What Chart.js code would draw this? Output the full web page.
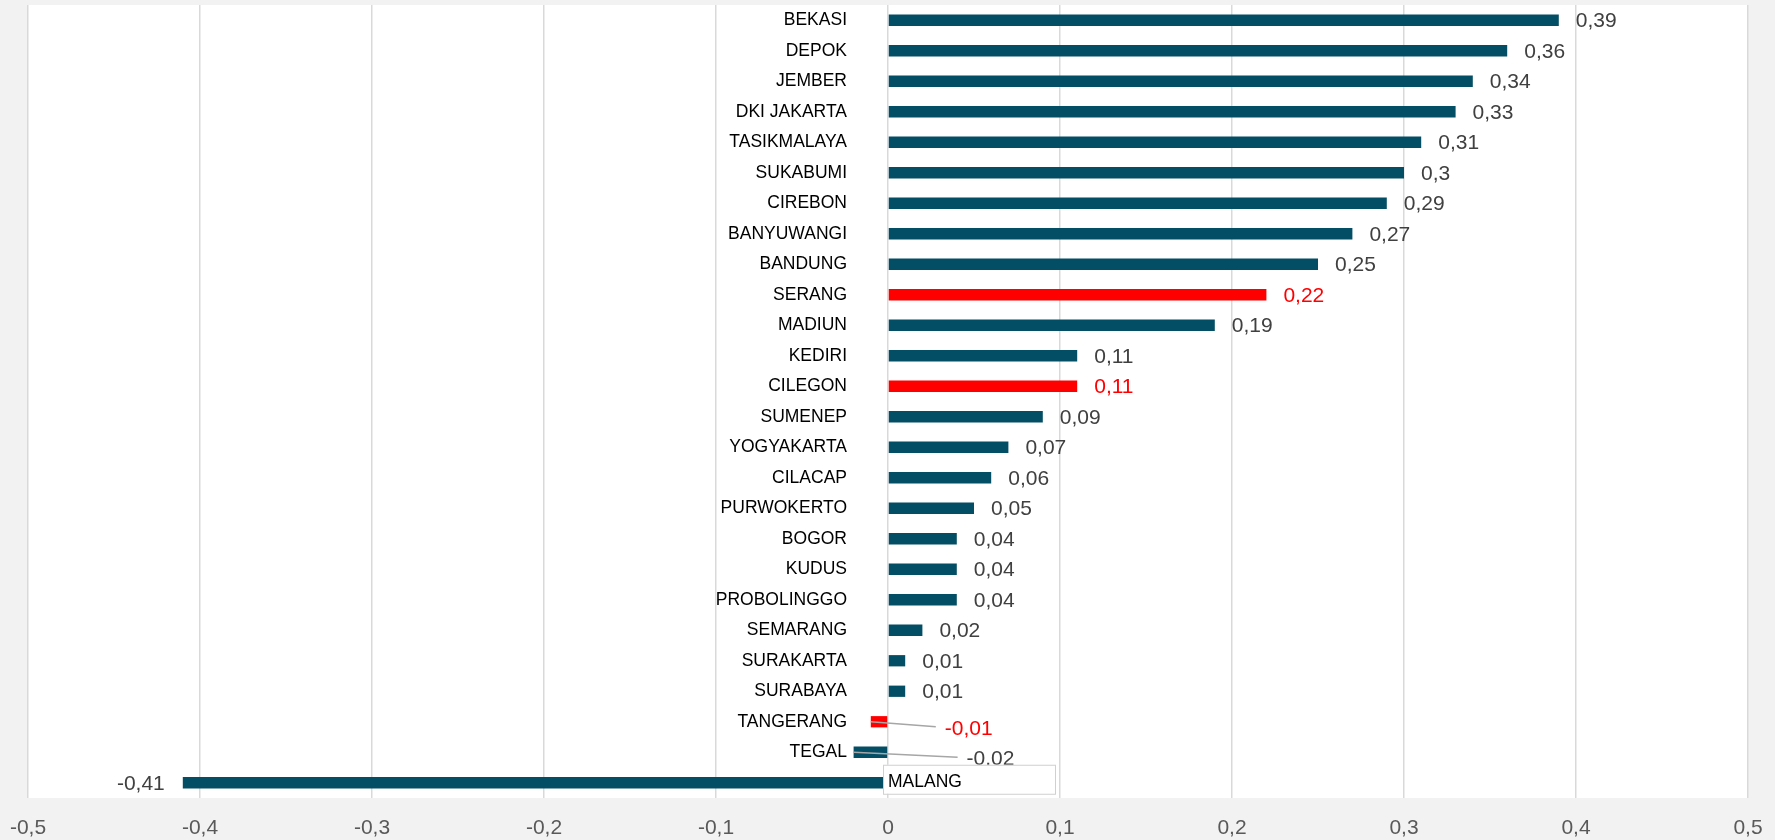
<!DOCTYPE html>
<html>
<head>
<meta charset="utf-8">
<script src="https://cdn.jsdelivr.net/npm/chart.js@4/dist/chart.umd.min.js"></script>
<style>
  html, body { margin: 0; padding: 0; background: #f2f2f2; }
  #wrap { width: 1775px; height: 840px; }
</style>
</head>
<body>
<div id="wrap"><canvas id="c" width="1775" height="840"></canvas></div>
<script>
const categories = ["BEKASI","DEPOK","JEMBER","DKI JAKARTA","TASIKMALAYA","SUKABUMI","CIREBON","BANYUWANGI","BANDUNG","SERANG","MADIUN","KEDIRI","CILEGON","SUMENEP","YOGYAKARTA","CILACAP","PURWOKERTO","BOGOR","KUDUS","PROBOLINGGO","SEMARANG","SURAKARTA","SURABAYA","TANGERANG","TEGAL","MALANG"];
const values = [0.39,0.36,0.34,0.33,0.31,0.3,0.29,0.27,0.25,0.22,0.19,0.11,0.11,0.09,0.07,0.06,0.05,0.04,0.04,0.04,0.02,0.01,0.01,-0.01,-0.02,-0.41];
const highlighted = ["SERANG","CILEGON","TANGERANG"];
const xTicks = [-0.5,-0.4,-0.3,-0.2,-0.1,0,0.1,0.2,0.3,0.4,0.5];

const BASE = '#044e65';
const RED = '#ff0000';
const fmt = v => String(v).replace('.', ',');
const barColors = categories.map(c => highlighted.includes(c) ? RED : BASE);

// label offsets for labels that were moved out with leader lines (px relative to bar end)
const leaderLabels = { "TANGERANG": {dx: 74, dy: 6}, "TEGAL": {dx: 113, dy: 6} };

const bgPlugin = {
  id: 'bg',
  beforeDraw(chart) {
    const {ctx, chartArea: a} = chart;
    ctx.save();
    ctx.fillStyle = '#f2f2f2';
    ctx.fillRect(0, 0, chart.width, chart.height);
    ctx.fillStyle = '#ffffff';
    ctx.fillRect(a.left, a.top, a.right - a.left, a.bottom - a.top);
    ctx.restore();
  }
};

const labelPlugin = {
  id: 'labels',
  afterDatasetsDraw(chart) {
    const ctx = chart.ctx;
    const xs = chart.scales.x;
    const x0 = xs.getPixelForValue(0);
    const meta = chart.getDatasetMeta(0);
    ctx.save();
    meta.data.forEach((bar, i) => {
      const v = values[i];
      const name = categories[i];
      const red = highlighted.includes(name);
      // category label
      ctx.font = '17.5px "Liberation Sans", Arial, sans-serif';
      ctx.fillStyle = '#000000';
      ctx.textBaseline = 'middle';
      const catRight = x0 - 41;
      if (bar.x < catRight - 5) {
        const w = xs.getPixelForValue(0.1) - x0;
        ctx.fillStyle = '#ffffff';
        ctx.fillRect(x0 - 5, bar.y - 18, w, 29);
        ctx.strokeStyle = '#d0d0d0';
        ctx.lineWidth = 1;
        ctx.strokeRect(x0 - 4.5, bar.y - 17.5, w, 29);
        ctx.fillStyle = '#000000';
        ctx.textAlign = 'left';
        ctx.fillText(name, x0, bar.y - 1);
      } else {
        ctx.textAlign = 'right';
        ctx.fillText(name, catRight, bar.y);
      }
      // value label
      ctx.font = '21px "Liberation Sans", Arial, sans-serif';
      ctx.fillStyle = red ? RED : '#404040';
      const ll = leaderLabels[name];
      if (ll) {
        const lx = bar.x + ll.dx, ly = bar.y + ll.dy;
        ctx.strokeStyle = '#a6a6a6';
        ctx.lineWidth = 1.5;
        ctx.beginPath();
        ctx.moveTo(bar.x, bar.y);
        ctx.lineTo(lx - 9, ly - 1);
        ctx.stroke();
        ctx.textAlign = 'left';
        ctx.fillText(fmt(v), lx, ly + 1);
      } else if (v >= 0) {
        ctx.textAlign = 'left';
        ctx.fillText(fmt(v), bar.x + 17, bar.y + 1);
      } else {
        ctx.textAlign = 'right';
        ctx.fillText(fmt(v), bar.x - 18, bar.y + 1);
      }
    });
    ctx.restore();
  }
};

new Chart(document.getElementById('c'), {
  type: 'bar',
  data: {
    labels: categories,
    datasets: [{
      data: values,
      backgroundColor: barColors,
      borderWidth: 0,
      barPercentage: 0.37,
      categoryPercentage: 1.0
    }]
  },
  options: {
    indexAxis: 'y',
    responsive: false,
    animation: false,
    devicePixelRatio: 1,
    layout: { padding: { left: 28, right: 27, top: 5, bottom: 0 } },
    plugins: { legend: { display: false }, tooltip: { enabled: false } },
    scales: {
      x: {
        type: 'linear',
        min: -0.5,
        max: 0.5,
        afterBuildTicks(scale) { scale.ticks = xTicks.map(v => ({ value: v })); },
        afterFit(scale) { scale.height = 42; scale.paddingLeft = 0; scale.paddingRight = 0; },
        grid: { color: '#d9d9d9', lineWidth: 1.5, drawTicks: false },
        border: { display: false },
        ticks: {
          padding: 18,
          color: '#595959',
          font: { family: '"Liberation Sans", Arial, sans-serif', size: 21 },
          maxRotation: 0,
          autoSkip: false,
          callback: v => fmt(Math.round(v * 10) / 10)
        }
      },
      y: {
        display: false,
        grid: { display: false }
      }
    }
  },
  plugins: [bgPlugin, labelPlugin]
});
</script>
</body>
</html>
